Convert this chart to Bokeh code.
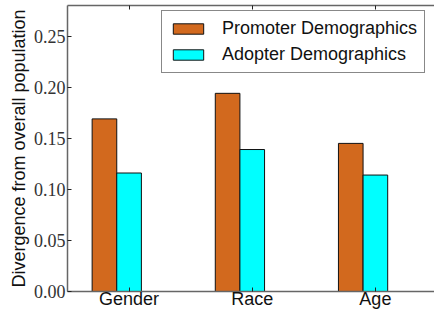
from bokeh.plotting import figure
from bokeh.models import (ColumnDataSource, FixedTicker, LinearAxis, Legend, LegendItem,
                          Range1d, PrintfTickFormatter)
from bokeh.embed import file_html
from bokeh.resources import INLINE

categories = ["Gender", "Race", "Age"]
promoter = [0.169, 0.194, 0.145]
adopter = [0.116, 0.139, 0.114]
yticks = [0.0, 0.05, 0.10, 0.15, 0.20, 0.25]
series_names = ["Promoter Demographics", "Adopter Demographics"]

width = 0.2
idx = list(range(len(categories)))
src = ColumnDataSource(dict(
    xp=[i + width / 2 for i in idx],
    xa=[i + 1.5 * width for i in idx],
    promoter=promoter,
    adopter=adopter,
))
tick_pos = [i + 1.5 * width for i in idx]

FRAME = "#666666"
p = figure(width=434, height=311, output_backend="svg", toolbar_location=None,
           x_range=Range1d(-0.2, 2.78), y_range=Range1d(0, 0.28),
           min_border_left=67, min_border_right=0, min_border_top=5, min_border_bottom=0,
           x_axis_location=None, y_axis_location=None)
p.outline_line_color = None
p.grid.visible = False

r1 = p.vbar(x="xp", top="promoter", width=width, source=src,
            fill_color="#D2691E", line_color="#111111", line_width=1)
r2 = p.vbar(x="xa", top="adopter", width=width, source=src,
            fill_color="#00FFFF", line_color="#111111", line_width=1)

# left axis
ya = LinearAxis(ticker=FixedTicker(ticks=yticks))
ya.formatter = PrintfTickFormatter(format="%.2f")
ya.axis_label = "Divergence from overall population"
ya.axis_label_text_font = "Liberation Sans"
ya.axis_label_text_font_style = "normal"
ya.axis_label_text_font_size = "18px"
ya.axis_label_text_color = "#111111"
ya.axis_label_standoff = 2
ya.major_label_text_font = "Liberation Serif"
ya.major_label_text_font_size = "18px"
ya.major_label_text_color = "#333333"
ya.major_label_standoff = 2
ya.major_tick_in = 4
ya.major_tick_out = 0
ya.minor_tick_line_color = None
ya.axis_line_color = FRAME
ya.axis_line_width = 1.5
ya.major_tick_line_color = "#222222"
p.add_layout(ya, "left")

# bottom axis
xa = LinearAxis(ticker=FixedTicker(ticks=tick_pos))
xa.major_label_overrides = {tick_pos[i]: categories[i] for i in idx}
xa.major_label_text_font = "Liberation Sans"
xa.major_label_text_font_size = "18px"
xa.major_label_text_color = "#111111"
xa.major_label_standoff = -3
xa.major_tick_in = 4
xa.major_tick_out = 0
xa.minor_tick_line_color = None
xa.axis_line_color = FRAME
xa.axis_line_width = 1.5
xa.major_tick_line_color = "#222222"
p.add_layout(xa, "below")

# top axis (frame line + inward ticks, labels not drawn)
ta = LinearAxis(ticker=FixedTicker(ticks=tick_pos))
ta.major_label_text_font_size = "1px"
ta.major_label_text_color = None
ta.major_label_standoff = 0
ta.major_tick_in = 4
ta.major_tick_out = 0
ta.minor_tick_line_color = None
ta.axis_line_color = FRAME
ta.axis_line_width = 1.5
ta.major_tick_line_color = "#222222"
p.add_layout(ta, "above")

legend = Legend(items=[LegendItem(label=series_names[0], renderers=[r1]),
                       LegendItem(label=series_names[1], renderers=[r2])],
                location=(94, 218))
legend.label_text_font = "Liberation Sans"
legend.label_text_font_size = "18px"
legend.label_text_color = "#111111"
legend.glyph_width = 38
legend.glyph_height = 13
legend.label_standoff = 15
legend.label_height = 13
legend.spacing = 5
legend.padding = 7
legend.margin = 0
legend.border_line_color = "#111111"
legend.border_line_width = 1
legend.background_fill_color = "white"
legend.background_fill_alpha = 1
p.add_layout(legend, "center")

open("out.html", "w").write(file_html(p, INLINE))
